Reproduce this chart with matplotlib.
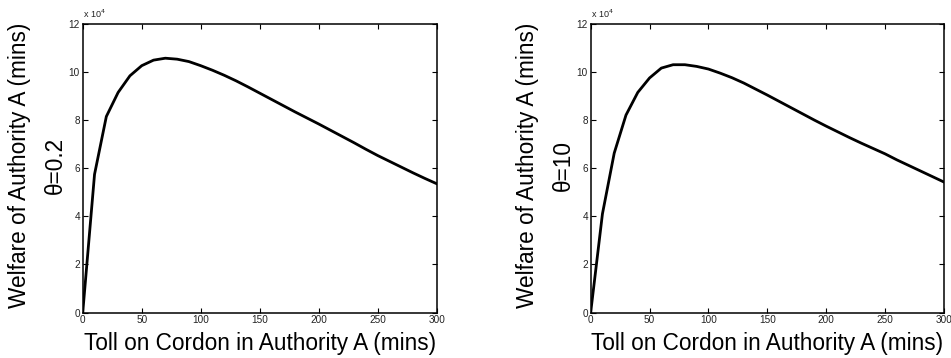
import matplotlib
matplotlib.use("Agg")
import matplotlib.pyplot as plt
from matplotlib.ticker import FuncFormatter

plt.rcParams['font.family'] = ['Liberation Sans', 'DejaVu Sans']

# Toll levels (mins) and resulting welfare of Authority A (mins)
toll = [0, 10, 20, 30, 40, 50, 60, 70, 80, 90, 100, 110, 120, 130, 140, 150,
        160, 170, 180, 190, 200, 210, 220, 230, 240, 250, 260, 270, 280, 290, 300]

welfare_theta_02 = [0, 57400, 81400, 91400, 98300, 102500, 104800, 105600, 105200,
                    104200, 102500, 100600, 98500, 96200, 93700, 91100, 88500,
                    85900, 83300, 80800, 78300, 75700, 73100, 70500, 67800, 65200,
                    62800, 60400, 58000, 55700, 53500]

welfare_theta_10 = [0, 41000, 66200, 82000, 91400, 97400, 101500, 102900, 102900,
                    102200, 101100, 99400, 97500, 95300, 92800, 90300, 87700,
                    85100, 82500, 79900, 77400, 75000, 72600, 70300, 68100, 65900,
                    63400, 61100, 58800, 56500, 54200]

theta_labels = ["\u03b8=0.2", "\u03b8=10"]
x_ticks = [0, 50, 100, 150, 200, 250, 300]
y_ticks = [0, 20000, 40000, 60000, 80000, 100000, 120000]

fig = plt.figure(figsize=(9.51, 3.58), dpi=100)
ax_left = fig.add_axes([0.0870, 0.1268, 0.3722, 0.8075])
ax_right = fig.add_axes([0.6211, 0.1268, 0.3715, 0.8075])

for ax, welfare, theta in zip([ax_left, ax_right],
                              [welfare_theta_02, welfare_theta_10],
                              theta_labels):
    ax.plot(toll, welfare, color='black', linewidth=2.0, solid_joinstyle='round')
    ax.set_xlim(0, 300)
    ax.set_ylim(0, 120000)
    ax.set_xticks(x_ticks)
    ax.set_yticks(y_ticks)
    ax.yaxis.set_major_formatter(FuncFormatter(lambda v, p: f"{v / 1e4:g}"))
    ax.tick_params(direction='in', length=3.5, width=0.8, labelsize=7.2,
                   top=True, right=True, pad=2, colors='black',
                   labelcolor='#222222')
    for s in ax.spines.values():
        s.set_linewidth(1.1)
    ax.text(0.0, 1.012, r"x 10$^{4}$", transform=ax.transAxes,
            fontsize=6.5, ha='left', va='bottom', color='#222222')
    ax.set_xlabel("Toll on Cordon in Authority A (mins)", fontsize=16.3, labelpad=4.5)
    ax.set_ylabel("Welfare of Authority A (mins)\n" + theta, fontsize=16.3,
                  labelpad=1.0, linespacing=1.75)
    ax.yaxis.label.set_y(0.51)

fig.savefig("out.png", dpi=100)
